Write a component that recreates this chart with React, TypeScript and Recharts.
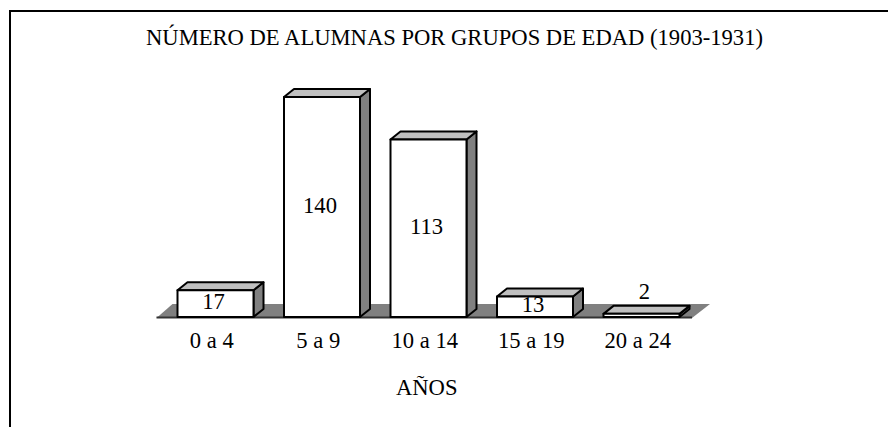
import { Bar, BarChart, LabelList, ReferenceArea, XAxis, YAxis } from 'recharts';

const AGE_GROUPS = ['0 a 4', '5 a 9', '10 a 14', '15 a 19', '20 a 24'];
const STUDENTS = [17, 140, 113, 13, 2];

const data = AGE_GROUPS.map((group, i) => ({ group, students: STUDENTS[i] }));

const FONT = '"Liberation Serif", serif';
const FONT_SIZE = 22.6;
const DEPTH_X = 10;
const DEPTH_Y = 8;

const Floor = ({ x, y, width, height }: any) => {
  const bottom = y + height;
  return (
    <g>
      <polygon
        points={`${x - 6},${bottom + 1} ${x + 10},${y} ${x + width + 15},${y} ${x + width - 3},${bottom + 1}`}
        fill="#808080"
      />
      <line x1={x - 6} y1={bottom + 0.5} x2={x + width - 3} y2={bottom + 0.5} stroke="#333" strokeWidth={2} />
    </g>
  );
};

const Box = ({ x, y, width, height }: any) => {
  const right = x + width;
  const bottom = y + height;
  return (
    <g stroke="#000" strokeWidth={2} strokeLinejoin="round">
      <polygon
        points={`${right},${y} ${right + DEPTH_X},${y - DEPTH_Y} ${right + DEPTH_X},${bottom - DEPTH_Y} ${right},${bottom}`}
        fill="#808080"
      />
      <polygon
        points={`${x},${y} ${x + DEPTH_X},${y - DEPTH_Y} ${right + DEPTH_X},${y - DEPTH_Y} ${right},${y}`}
        fill="#c0c0c0"
      />
      <rect x={x} y={y} width={width} height={height} fill="#fff" />
    </g>
  );
};

const ValueLabel = ({ x, y, width, height, value }: any) => {
  // the very short bar carries its value above the box, the others inside
  const above = height < 10;
  return (
    <text
      x={x + width / 2 + (above ? 3 : -2)}
      y={above ? y - 22 : y + height / 2 - 2}
      textAnchor="middle"
      dominantBaseline="central"
      fontFamily={FONT}
      fontSize={FONT_SIZE}
      fill="#000"
    >
      {value}
    </text>
  );
};

export default function App() {
  return (
    <div style={{ position: 'absolute', left: 0, top: 0, width: 888, height: 427, background: '#fff', overflow: 'hidden' }}>
      <div
        style={{
          position: 'absolute',
          left: 9,
          top: 10,
          width: 879,
          height: 417,
          borderTop: '2px solid #000',
          borderLeft: '2px solid #000',
          boxSizing: 'border-box',
        }}
      />
      <div
        style={{
          position: 'absolute',
          left: 146,
          top: 25,
          whiteSpace: 'nowrap',
          fontFamily: FONT,
          fontSize: FONT_SIZE,
          color: '#000',
        }}
      >
        NÚMERO DE ALUMNAS POR GRUPOS DE EDAD (1903-1931)
      </div>
      <BarChart
        width={888}
        height={427}
        data={data}
        margin={{ top: 97, right: 193, bottom: 80, left: 162.5 }}
        style={{ position: 'absolute', left: 0, top: 0 }}
      >
        <XAxis
          dataKey="group"
          axisLine={false}
          tickLine={false}
          height={30}
          interval={0}
          tickMargin={9}
          dx={-4}
          tick={{ fontFamily: FONT, fontSize: FONT_SIZE, fill: '#000' }}
          label={{ value: 'AÑOS', position: 'insideBottom', offset: -48, dx: -2, fontFamily: FONT, fontSize: FONT_SIZE, fill: '#000' }}
        />
        <YAxis hide domain={[0, 140]} />
        <ReferenceArea y1={0} y2={8.3} shape={<Floor />} ifOverflow="visible" />
        <Bar dataKey="students" barSize={76} shape={<Box />} isAnimationActive={false}>
          <LabelList dataKey="students" content={<ValueLabel />} />
        </Bar>
      </BarChart>
    </div>
  );
}
